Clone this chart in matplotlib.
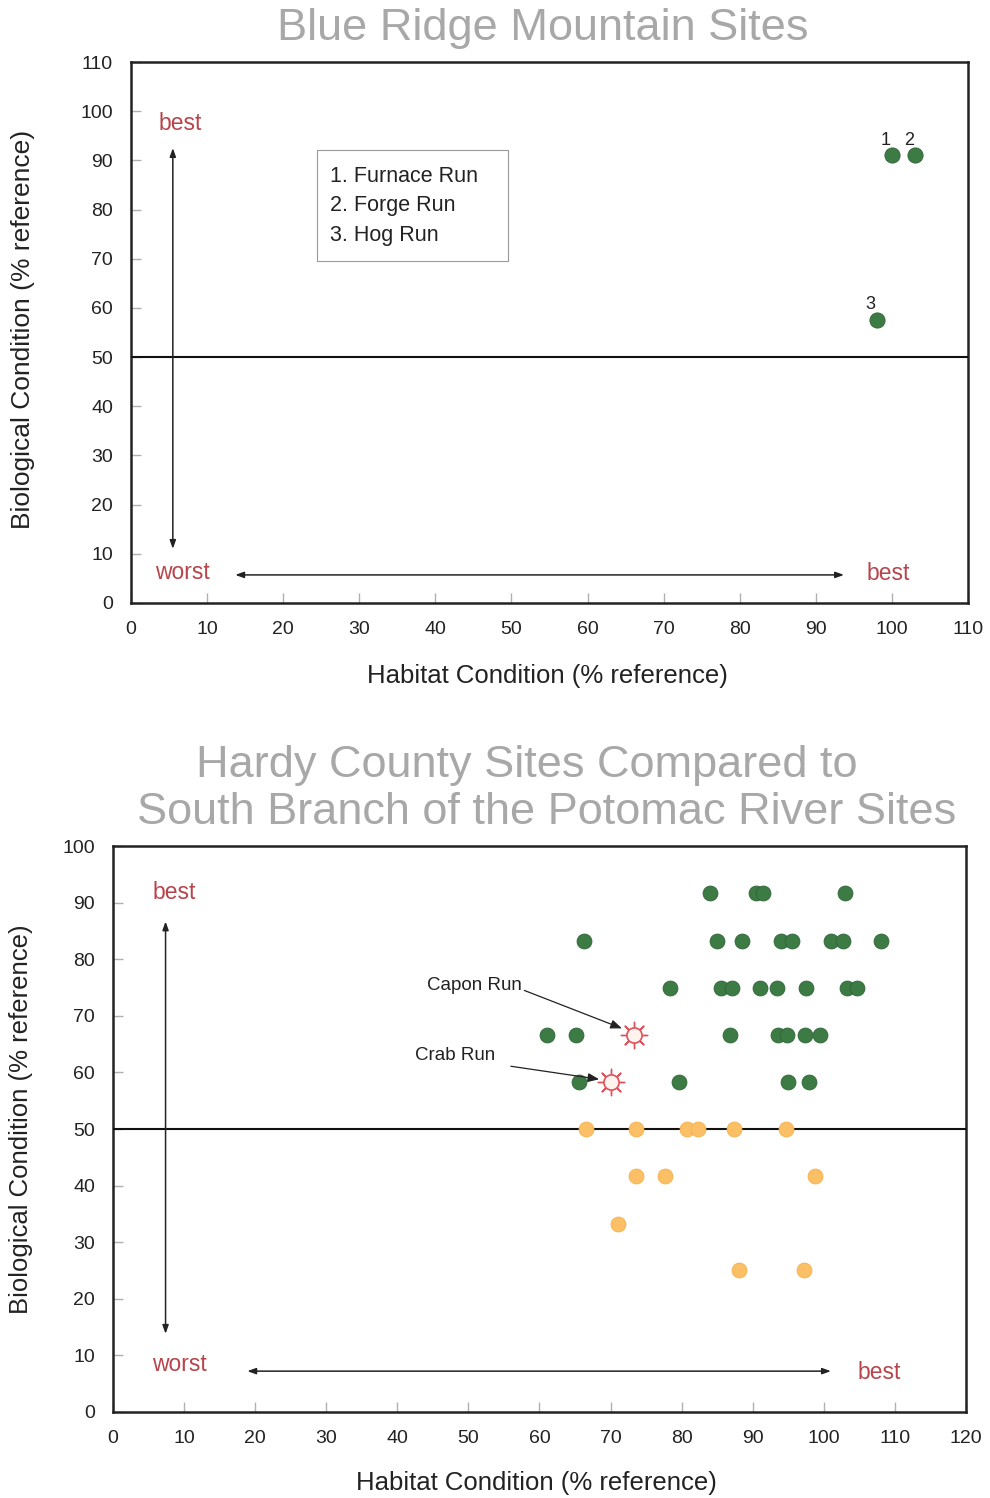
import matplotlib
matplotlib.use("Agg")
import matplotlib.pyplot as plt
from matplotlib.patches import Rectangle

plt.rcParams["font.family"] = ["Liberation Sans", "DejaVu Sans"]

# --- top chart: Blue Ridge Mountain sites
br_x = [100, 103, 98]
br_y = [91, 91, 57.5]
br_ids = ["1", "2", "3"]
br_names = ["1. Furnace Run", "2. Forge Run", "3. Hog Run"]

# --- bottom chart: Hardy County / South Branch sites
green_x = [84, 90.5, 91.5, 103,
           66.2, 85, 88.5, 94, 95.5, 101, 102.7, 108,
           78.3, 85.5, 87.1, 91, 93.4, 97.5, 103.2, 104.7,
           61.1, 65.1, 86.8, 93.6, 94.8, 97.3, 99.4,
           65.5, 79.6, 94.9, 97.9]
green_y = [91.7] * 4 + [83.3] * 8 + [75] * 8 + [66.7] * 7 + [58.3] * 4
orange_x = [66.6, 73.6, 80.7, 82.3, 87.4, 94.7,
            73.6, 77.7, 98.8,
            71.0,
            88.1, 97.2]
orange_y = [50] * 6 + [41.7] * 3 + [33.3] + [25] * 2
star_names = ["Capon Run", "Crab Run"]
star_x = [73.3, 70.0]
star_y = [66.7, 58.3]

GREEN = "#3d7b45"
ORANGE = "#fbc066"
RED = "#b8454c"
GRAY_T = "#a8a8a8"


def style(ax, xmax, ymax):
    ax.set_xlim(0, xmax)
    ax.set_ylim(0, ymax)
    ax.set_xticks(range(0, xmax + 1, 10))
    ax.set_yticks(range(0, ymax + 1, 10))
    ax.tick_params(direction="in", length=7, width=1, color="#b0b0b0",
                   labelsize=14, pad=13, labelcolor="#222222")
    for s in ax.spines.values():
        s.set_linewidth(1.8)
        s.set_color("#222222")
    # reference line at 50, drawn over the gray tick marks
    ax.axhline(50, color="#111111", lw=1.5, zorder=2.6)


def arrows(ax, vx, v0, v1, hy, h0, h1):
    kw = dict(arrowstyle="<|-|>,head_length=0.5,head_width=0.18", lw=1.1, color="#222222",
              shrinkA=0, shrinkB=0)
    ax.annotate("", xy=(vx, v1), xytext=(vx, v0), arrowprops=kw)
    ax.annotate("", xy=(h1, hy), xytext=(h0, hy), arrowprops=kw)


fig = plt.figure(figsize=(9.9, 14.98), dpi=100)

# top
ax1 = fig.add_axes([0.1323, 0.5975, 0.8455, 0.3611])
style(ax1, 110, 110)
ax1.scatter(br_x, br_y, s=120, color=GREEN, edgecolor="#2f6438", lw=0.6, zorder=3)
for x, y, t in zip(br_x, br_y, br_ids):
    ax1.text(x - 0.8, y + 1.4, t, ha="center", va="bottom", fontsize=13, color="#222222")
ax1.add_patch(Rectangle((24.4, 69.5), 25.1, 22.6, fc="white", ec="#999999", lw=0.8, zorder=2))
for i, name in enumerate(br_names):
    ax1.text(26.1, 86.8 - 6.0 * i, name, ha="left", va="center", fontsize=15.5,
             color="#222222", zorder=3)
arrows(ax1, 5.5, 11, 92.5, 5.7, 13.7, 93.7)
ax1.text(6.5, 97.5, "best", color=RED, fontsize=16.5, ha="center", va="center")
ax1.text(6.8, 6.2, "worst", color=RED, fontsize=16.5, ha="center", va="center")
ax1.text(99.5, 6.0, "best", color=RED, fontsize=16.5, ha="center", va="center")

fig.text(0.548, 0.981, "Blue Ridge Mountain Sites", ha="center", va="center",
         fontsize=32.5, color=GRAY_T)
fig.text(0.553, 0.549, "Habitat Condition (% reference)", ha="center", va="center",
         fontsize=18.5, color="#222222")
fig.text(0.023, 0.78, "Biological Condition (% reference)", ha="center", va="center",
         rotation=90, fontsize=19, color="#222222")

# bottom
ax2 = fig.add_axes([0.1141, 0.0575, 0.8616, 0.3776])
style(ax2, 120, 100)
ax2.scatter(green_x, green_y, s=115, color=GREEN, edgecolor="#2f6438", lw=0.6, zorder=3)
ax2.scatter(orange_x, orange_y, s=115, color=ORANGE, edgecolor="#f5b04a", lw=0.6, zorder=3)
ax2.scatter(star_x, star_y, s=360, marker=(8, 2, 0), color="#e0505a", lw=1.0, zorder=3)
ax2.scatter(star_x, star_y, s=120, marker="o", facecolor="#fff3ee", edgecolor="#e0505a",
            lw=1.2, zorder=4)
ax2.annotate(star_names[0], xy=(71.6, 67.8), xytext=(50.8, 75.3), fontsize=13.5,
             ha="center", va="center", color="#222222",
             arrowprops=dict(arrowstyle="-|>,head_length=0.5,head_width=0.2", lw=0.9,
                             color="#222222", shrinkA=0, shrinkB=0,
                             relpos=(1.0, 0.3)))
ax2.annotate(star_names[1], xy=(68.4, 58.8), xytext=(48.2, 63.0), fontsize=13.5,
             ha="center", va="center", color="#222222",
             arrowprops=dict(arrowstyle="-|>,head_length=0.5,head_width=0.2", lw=0.9,
                             color="#222222", shrinkA=9, shrinkB=0,
                             relpos=(1.0, 0.0)))
arrows(ax2, 7.4, 13.8, 86.7, 7.2, 18.9, 101)
ax2.text(8.6, 91.8, "best", color=RED, fontsize=16.5, ha="center", va="center")
ax2.text(9.3, 8.3, "worst", color=RED, fontsize=16.5, ha="center", va="center")
ax2.text(107.8, 7.0, "best", color=RED, fontsize=16.5, ha="center", va="center")

fig.text(0.532, 0.4893, "Hardy County Sites Compared to", ha="center", va="center",
         fontsize=32.5, color=GRAY_T)
fig.text(0.552, 0.4579, "South Branch of the Potomac River Sites", ha="center", va="center",
         fontsize=32.5, color=GRAY_T)
fig.text(0.542, 0.01, "Habitat Condition (% reference)", ha="center", va="center",
         fontsize=18.5, color="#222222")
fig.text(0.021, 0.253, "Biological Condition (% reference)", ha="center", va="center",
         rotation=90, fontsize=18.5, color="#222222")

fig.savefig("out.png", dpi=100)
